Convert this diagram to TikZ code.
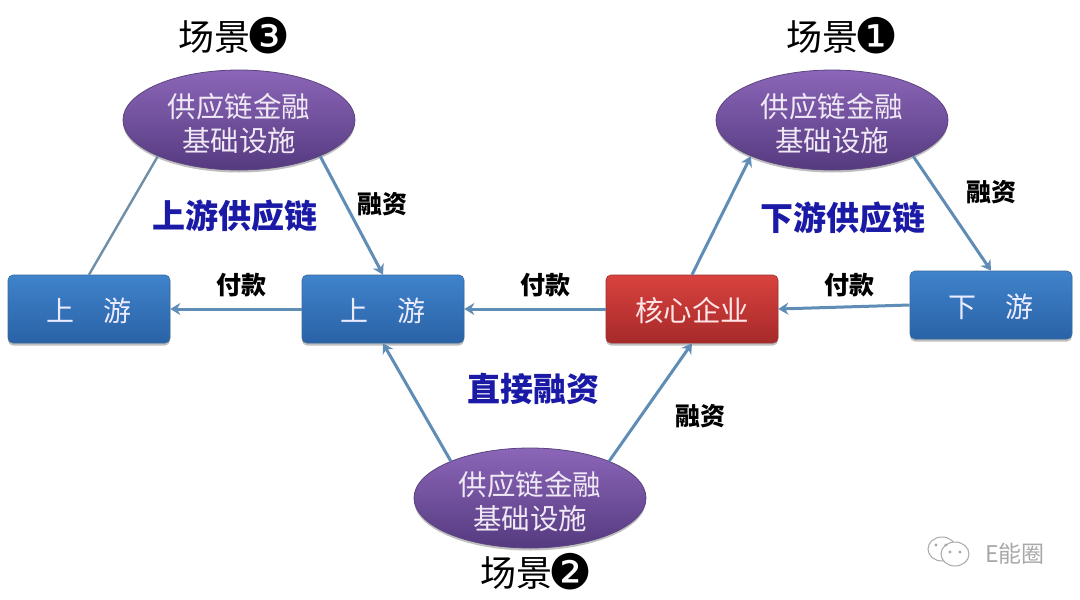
\documentclass[tikz,border=0pt]{standalone}
\usepackage{fontspec}
\setmainfont{Noto Sans CJK SC}
\newfontfamily\cjk{Noto Sans CJK SC}
\newfontfamily\cjkheavy{Noto Sans CJK SC Black}
\newfontfamily\sym{DejaVu Sans}
\usetikzlibrary{shapes.geometric,shadows,arrows.meta}
\definecolor{lnk}{HTML}{5F8DB6}
\definecolor{lnkthin}{HTML}{6F8FA8}
\definecolor{navy}{HTML}{1A1AA6}
\definecolor{pale}{HTML}{EFE8F5}
\definecolor{wm}{HTML}{A8A8A8}
\definecolor{ptop}{HTML}{8C66B8}
\definecolor{pmid}{HTML}{7A54A6}
\definecolor{pbot}{HTML}{553A80}
\definecolor{prim}{HTML}{5C4480}
\definecolor{btop}{HTML}{3F83CB}
\definecolor{bmid}{HTML}{2F6FB8}
\definecolor{bbot}{HTML}{2A62A6}
\definecolor{brim}{HTML}{3A6A9E}
\definecolor{rtop}{HTML}{D9423E}
\definecolor{rmid}{HTML}{C53232}
\definecolor{rbot}{HTML}{A62A2A}
\definecolor{rrim}{HTML}{9A3030}
\tikzset{
  softshadow/.style={drop shadow={shadow xshift=0pt,shadow yshift=-2.5pt,opacity=.25,fill=black}},
  plat/.style={ellipse,inner sep=0pt,minimum width=232pt,minimum height=100pt,draw=prim,line width=.8pt,
    top color=ptop,middle color=pmid,bottom color=pbot,softshadow,text=pale,align=center,font=\cjk\fontsize{28.5}{34}\selectfont},
  blubox/.style={rectangle,rounded corners=5pt,minimum width=162pt,minimum height=68pt,inner sep=0pt,draw=brim,line width=.6pt,
    top color=btop,middle color=bmid,bottom color=bbot,softshadow,text=white!92!blue,font=\cjk\fontsize{28}{32}\selectfont},
  redbox/.style={rectangle,rounded corners=5pt,minimum width=172pt,minimum height=68pt,inner sep=0pt,draw=rrim,line width=.6pt,
    top color=rtop,middle color=rmid,bottom color=rbot,softshadow,text=white!90!red,font=\cjk\fontsize{28.5}{32}\selectfont},
  titlelabel/.style={font=\cjk\fontsize{36}{40}\selectfont,text=black,inner sep=0pt},
  chainlabel/.style={font=\cjkheavy\fontsize{33}{38}\selectfont,text=navy,inner sep=0pt},
  smalllabel/.style={font=\cjk\bfseries\fontsize{25}{28}\selectfont,text=black,inner sep=0pt},
  flow/.style={draw=lnk,line width=3pt,-{Stealth[length=10pt,width=12pt]}},
  plainflow/.style={draw=lnkthin,line width=2.4pt},
}
\newcommand{\lowered}[1]{\raisebox{-3.5pt}[\height][\depth]{#1}}
\newcommand{\boxtext}[1]{\raisebox{-1.5pt}[\height][\depth]{#1}}
\newcommand{\circled}[1]{\hspace{-4pt}{\sym\fontsize{49}{40}\selectfont\raisebox{-3pt}[0pt][0pt]{#1}}}
\begin{document}
\begin{tikzpicture}[x=1pt,y=-1pt]
\useasboundingbox (0,0) rectangle (1080,600);
\fill[white] (0,0) rectangle (1080,600);

\node[plat] (e3) at (239,120) {\lowered{供应链金融}\\\lowered{基础设施}};
\node[plat] (e1) at (832,120) {\lowered{供应链金融}\\\lowered{基础设施}};
\node[plat] (e2) at (530,498) {\lowered{供应链金融}\\\lowered{基础设施}};

\node[blubox] (u1) at (89,309) {\boxtext{上\hspace{1.03em}游}};
\node[blubox] (u2) at (383,309) {\boxtext{上\hspace{1.03em}游}};
\node[redbox] (core) at (692,309) {\boxtext{核心企业}};
\node[blubox] (d) at (991,305) {\boxtext{下\hspace{1.03em}游}};

\draw[plainflow] (e3.204) -- (u1.north);
\draw[flow] (e3.-24.5) -- (u2.north);
\draw[flow] (u2.west) -- (u1.east);
\draw[flow] (core.west) -- (u2.east);
\draw[flow] (d.west) -- (core.east);
\draw[flow] (core.north) -- (e1.204);
\draw[flow] (e1.-24) -- (d.north);
\draw[flow] (e2.155.8) -- (u2.south);
\draw[flow] (e2.25) -- (core.south);

\node[titlelabel] (t3) at (234.5,37) {场景\circled{❸}};
\node[titlelabel] (t1) at (842.5,37) {场景\circled{❶}};
\node[titlelabel] (t2) at (536.5,573) {场景\circled{❷}};

\node[chainlabel] (c3) at (235,216) {上游供应链};
\node[chainlabel] (c1) at (843,218) {下游供应链};
\node[chainlabel] (c2) at (533,389) {直接融资};

\node[smalllabel] (r3) at (382,204) {融资};
\node[smalllabel] (r1) at (991,192) {融资};
\node[smalllabel] (r2) at (700,416) {融资};
\node[smalllabel] (p1) at (241,285) {付款};
\node[smalllabel] (p2) at (545,285) {付款};
\node[smalllabel] (p3) at (849,285) {付款};

% watermark
\draw[wm,line width=1pt,fill=white] (942,549) ellipse (14pt and 12pt);
\draw[wm,line width=1pt,fill=white] (955,554) ellipse (14pt and 12pt);
\fill[wm] (950,552) circle (1.6pt) (960,552) circle (1.6pt) (936,545) circle (1.6pt) (946,545) circle (1.6pt);
\node[font=\cjk\fontsize{23}{24}\selectfont,text=wm,inner sep=0pt] (wmt) at (1015,554) {E能圈};
\end{tikzpicture}
\end{document}
